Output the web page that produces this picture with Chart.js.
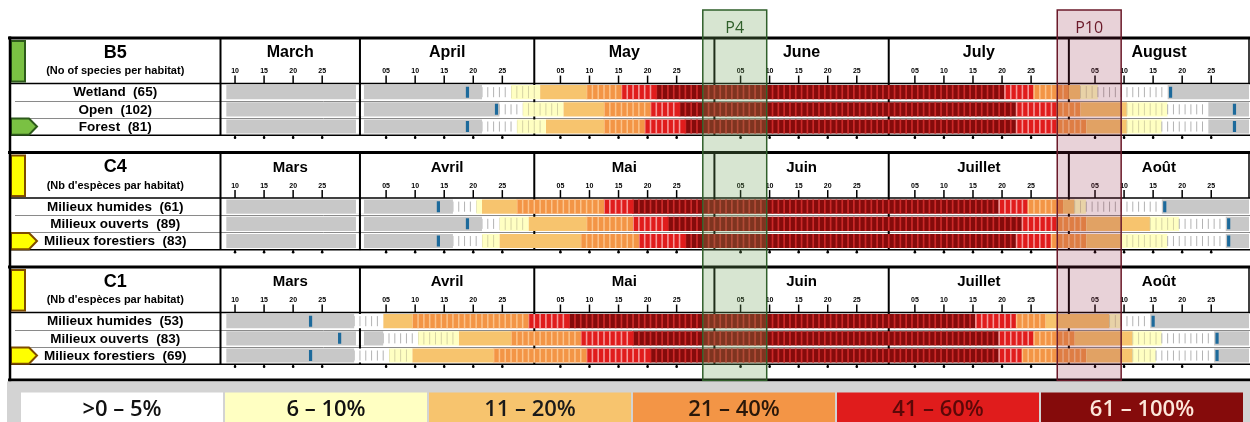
<!DOCTYPE html>
<html>
<head>
<meta charset="utf-8">
<title>Flight periods per habitat</title>
<script src="https://cdn.jsdelivr.net/npm/chart.js@4.4.1/dist/chart.umd.min.js"></script>
<style>
  html, body { margin: 0; padding: 0; background: #fff; overflow: hidden; }
  canvas { display: block; }
</style>
</head>
<body>
<canvas id="flight" width="1250" height="422"></canvas>
<script>
// ---- Calendar -------------------------------------------------------------
const monthsEn = ['March', 'April', 'May', 'June', 'July', 'August'];
const monthsFr = ['Mars', 'Avril', 'Mai', 'Juin', 'Juillet', 'Août'];
const monthNumbers = ['03', '04', '05', '06', '07', '08'];
const monthLengths = [31, 30, 31, 30, 31, 31];
const dayTicks = [5, 10, 15, 20, 25];
const firstShownDay = '03-08';
const lastShownDay = '08-31';

// ---- Abundance classes (share of species in flight) -----------------------
const classLabels = ['>0 – 5%', '6 – 10%', '11 – 20%', '21 – 40%', '41 – 60%', '61 – 100%'];

// ---- Panels ---------------------------------------------------------------
const panelCodes = ['B5', 'C4', 'C1'];
const panelSubtitles = ['(No of species per habitat)', "(Nb d'espèces par habitat)", "(Nb d'espèces par habitat)"];

const b5Habitats = ['Wetland', 'Open', 'Forest'];
const b5Species = [65, 102, 81];
const c4Habitats = ['Milieux humides', 'Milieux ouverts', 'Milieux forestiers'];
const c4Species = [61, 89, 83];
const c1Habitats = ['Milieux humides', 'Milieux ouverts', 'Milieux forestiers'];
const c1Species = [53, 83, 69];

// Each habitat row: [from, to (inclusive), class]; 'n' = no record
const b5Wetland = [
  ['03-09', '04-21', 'n'], ['04-22', '04-26', 0], ['04-27', '05-01', 1], ['05-02', '05-09', 2],
  ['05-10', '05-15', 3], ['05-16', '05-21', 4], ['05-22', '07-20', 5], ['07-21', '07-25', 4],
  ['07-26', '07-31', 3], ['08-01', '08-02', 2], ['08-03', '08-05', 1], ['08-06', '08-17', 0],
  ['08-18', '08-31', 'n']
];
const b5Open = [
  ['03-09', '04-24', 'n'], ['04-25', '04-28', 0], ['04-29', '05-05', 1], ['05-06', '05-12', 2],
  ['05-13', '05-20', 3], ['05-21', '05-25', 4], ['05-26', '07-22', 5], ['07-23', '07-29', 4],
  ['07-30', '08-02', 3], ['08-03', '08-10', 2], ['08-11', '08-17', 1], ['08-18', '08-24', 0],
  ['08-25', '08-31', 'n']
];
const b5Forest = [
  ['03-09', '04-21', 'n'], ['04-22', '04-27', 0], ['04-28', '05-02', 1], ['05-03', '05-12', 2],
  ['05-13', '05-19', 3], ['05-20', '05-26', 4], ['05-27', '07-22', 5], ['07-23', '07-29', 4],
  ['07-30', '08-03', 3], ['08-04', '08-10', 2], ['08-11', '08-16', 1], ['08-17', '08-24', 0],
  ['08-25', '08-31', 'n']
];
const c4Humides = [
  ['03-09', '04-16', 'n'], ['04-17', '04-20', 0], ['04-21', '04-21', 1], ['04-22', '04-27', 2],
  ['04-28', '05-12', 3], ['05-13', '05-17', 4], ['05-18', '07-19', 5], ['07-20', '07-24', 4],
  ['07-25', '07-30', 3], ['07-31', '08-01', 2], ['08-02', '08-03', 1], ['08-04', '08-16', 0],
  ['08-17', '08-31', 'n']
];
const c4Ouverts = [
  ['03-09', '04-21', 'n'], ['04-22', '04-24', 0], ['04-25', '04-29', 1], ['04-30', '05-09', 2],
  ['05-10', '05-17', 3], ['05-18', '05-23', 4], ['05-24', '07-23', 5], ['07-24', '07-29', 4],
  ['07-30', '08-03', 3], ['08-04', '08-14', 2], ['08-15', '08-19', 1], ['08-20', '08-27', 0],
  ['08-28', '08-31', 'n']
];
const c4Forestiers = [
  ['03-09', '04-16', 'n'], ['04-17', '04-21', 0], ['04-22', '04-24', 1], ['04-25', '05-08', 2],
  ['05-09', '05-18', 3], ['05-19', '05-26', 4], ['05-27', '07-22', 5], ['07-23', '07-28', 4],
  ['07-29', '08-03', 3], ['08-04', '08-09', 2], ['08-10', '08-17', 1], ['08-18', '08-27', 0],
  ['08-28', '08-31', 'n']
];
const c1Humides = [
  ['03-09', '03-30', 'n'], ['03-31', '04-04', 0], ['04-05', '04-09', 2], ['04-10', '04-29', 3],
  ['04-30', '05-06', 4], ['05-07', '07-15', 5], ['07-16', '07-22', 4], ['07-23', '07-27', 3],
  ['07-28', '08-07', 2], ['08-08', '08-09', 1], ['08-10', '08-14', 0], ['08-15', '08-31', 'n']
];
const c1Ouverts = [
  ['03-09', '04-04', 'n'], ['04-05', '04-10', 0], ['04-11', '04-17', 1], ['04-18', '04-26', 2],
  ['04-27', '05-08', 3], ['05-09', '05-17', 4], ['05-18', '07-19', 5], ['07-20', '07-25', 4],
  ['07-26', '08-01', 3], ['08-02', '08-11', 2], ['08-12', '08-16', 1], ['08-17', '08-25', 0],
  ['08-26', '08-31', 'n']
];
const c1Forestiers = [
  ['03-09', '03-30', 'n'], ['03-31', '04-05', 0], ['04-06', '04-09', 1], ['04-10', '04-23', 2],
  ['04-24', '05-09', 3], ['05-10', '05-20', 4], ['05-21', '07-19', 5], ['07-20', '07-23', 4],
  ['07-24', '08-03', 3], ['08-04', '08-11', 2], ['08-12', '08-15', 1], ['08-16', '08-25', 0],
  ['08-26', '08-31', 'n']
];

// First and last record for each habitat row
const b5Markers = [['04-19', '08-18'], ['04-24', '08-29'], ['04-19', '08-29']];
const c4Markers = [['04-14', '08-17'], ['04-19', '08-28'], ['04-14', '08-28']];
const c1Markers = [['03-23', '08-15'], ['03-28', '08-26'], ['03-23', '08-26']];

// Highlighted sampling periods
const periodLabels = ['P4', 'P10'];
const periodStarts = ['05-30', '07-30'];
const periodEnds = ['06-09', '08-09'];

// ---- Styling ---------------------------------------------------------------
const TXT = '"Liberation Sans", Arial, Helvetica, sans-serif';
const LEG = '"Open Sans", "Liberation Sans", sans-serif';
const classKeys = ['n', 0, 1, 2, 3, 4, 5];
const classStyle = {
  n: { fill: '#c8c8c8' },
  0: { fill: '#ffffff', stripe: '#b3b3b3', width: 1, inset: 2 },
  1: { fill: '#ffffc2', stripe: '#d6d3a4', width: 1, inset: 1 },
  2: { fill: '#f7c46e' },
  3: { fill: '#f39546', stripe: '#fbc48c', width: 1.5, inset: 0 },
  4: { fill: '#e01c1c', stripe: '#f49a9a', width: 1.6, inset: 0 },
  5: { fill: '#850b0b', stripe: '#cc2a2a', width: 1.7, inset: 0 }
};
const legendText = ['#111', '#111', '#1a1a1a', '#2a180a', '#5c0808', '#fde6da'];
const periodStyle = [
  { fill: 'rgba(110,160,90,0.28)', edge: '#2f5f2a' },
  { fill: 'rgba(140,30,60,0.20)', edge: '#6b1a2a' }
];
const panelTab = [
  { fill: '#7ac143', edge: '#2d5a1b', months: monthsEn, monthSize: 16 },
  { fill: '#ffff00', edge: '#7f4c00', months: monthsFr, monthSize: 15 },
  { fill: '#ffff00', edge: '#7f4c00', months: monthsFr, monthSize: 15 }
];

// Vertical layout in row units
const PITCH = 6.66;   // one panel
const HEAD = 2.65;    // panel header
const rowValue = (p, r) => p * PITCH + HEAD + r + 0.5;

// ---- Helpers ---------------------------------------------------------------
const monthOffset = {};
monthNumbers.reduce((acc, m, i) => { monthOffset[m] = acc; return acc + monthLengths[i]; }, 0);
const dayIndex = s => monthOffset[s.slice(0, 2)] + Number(s.slice(3)) - 1;
const monthStarts = monthNumbers.map(m => monthOffset[m]);
const X_MIN = dayIndex(firstShownDay);
const X_MAX = dayIndex(lastShownDay) + 1;

const panels = [
  { habitats: b5Habitats, species: b5Species, rows: [b5Wetland, b5Open, b5Forest], markers: b5Markers },
  { habitats: c4Habitats, species: c4Species, rows: [c4Humides, c4Ouverts, c4Forestiers], markers: c4Markers },
  { habitats: c1Habitats, species: c1Species, rows: [c1Humides, c1Ouverts, c1Forestiers], markers: c1Markers }
];

function line(ctx, x0, y0, x1, y1) {
  ctx.beginPath(); ctx.moveTo(x0, y0); ctx.lineTo(x1, y1); ctx.stroke();
}

// ---- Datasets -------------------------------------------------------------
const classDatasets = classKeys.map(key => {
  const data = [];
  panels.forEach((pn, p) => pn.rows.forEach((segs, r) => segs.forEach(([a, b, c]) => {
    if (c === key) data.push({ x: [dayIndex(a), dayIndex(b) + 1], y: rowValue(p, r) });
  })));
  return {
    type: 'bar', indexAxis: 'y', grouped: false, label: String(key), data,
    classKey: key,
    backgroundColor: classStyle[key].fill, borderWidth: 0,
    barPercentage: 0.82, categoryPercentage: 1
  };
});

const markerData = [];
panels.forEach((pn, p) => pn.markers.forEach((pair, r) => pair.forEach(d => {
  markerData.push({ x: dayIndex(d) + 0.5, y: rowValue(p, r) });
})));
const markerDataset = {
  type: 'scatter', label: 'records', data: markerData, order: -1,
  pointStyle: 'line', rotation: 90, radius: 5.5, borderWidth: 3.2,
  borderColor: '#1d6a9b', backgroundColor: '#1d6a9b'
};

// ---- Plugins --------------------------------------------------------------
const framePlugin = {
  id: 'panelFrame',
  beforeDatasetsDraw(chart) {
    const { ctx, chartArea: ca, scales: { x: xs, y: ys } } = chart;
    const R = chart.width;
    const L = 10;
    ctx.save();
    panels.forEach((pn, p) => {
      const top = ys.getPixelForValue(p * PITCH);
      const hb = ys.getPixelForValue(p * PITCH + HEAD);
      const db = ys.getPixelForValue(p * PITCH + HEAD + 3);
      const st = panelTab[p];

      // row separators
      ctx.strokeStyle = '#8a8a8a'; ctx.lineWidth = 1;
      for (let r = 1; r < 3; r++) {
        const yy = Math.round(ys.getPixelForValue(p * PITCH + HEAD + r)) + 0.5;
        line(ctx, 15, yy, R, yy);
      }
      // month separators
      ctx.strokeStyle = '#000'; ctx.lineWidth = 2;
      monthStarts.forEach(ms => {
        if (ms > X_MIN) { const px = xs.getPixelForValue(ms); line(ctx, px, top, px, db); }
      });
      line(ctx, ca.left, top, ca.left, db);
      ctx.lineWidth = 1.5;
      line(ctx, R - 1, top, R - 1, hb);
      // header bottom and data bottom
      line(ctx, L, hb, R, hb);
      line(ctx, L, db, R, db);
      // panel top rule
      ctx.lineWidth = 3;
      line(ctx, 8, top, R, top);

      // colour tab and arrow
      ctx.fillStyle = st.fill; ctx.strokeStyle = st.edge; ctx.lineWidth = 2;
      ctx.fillRect(11, top + 3, 14, hb - top - 5);
      ctx.strokeRect(11, top + 3, 14, hb - top - 5);
      const r3 = ys.getPixelForValue(p * PITCH + HEAD + 2);
      ctx.beginPath();
      ctx.moveTo(11, r3 + 0.5); ctx.lineTo(29, r3 + 0.5); ctx.lineTo(37, (r3 + db) / 2);
      ctx.lineTo(29, db - 0.5); ctx.lineTo(11, db - 0.5); ctx.closePath();
      ctx.fill(); ctx.stroke();

      // titles
      const cx = (L + ca.left) / 2;
      ctx.fillStyle = '#000'; ctx.textAlign = 'center'; ctx.textBaseline = 'middle';
      ctx.font = `bold 18px ${TXT}`;
      ctx.fillText(panelCodes[p], cx, top + 15);
      ctx.font = `bold 11px ${TXT}`;
      ctx.fillText(panelSubtitles[p], cx, top + 33);
      ctx.font = `bold 13.5px ${TXT}`;
      pn.habitats.forEach((h, r) => {
        ctx.fillText(`${h}  (${pn.species[r]})`, cx, ys.getPixelForValue(rowValue(p, r)) + 0.5);
      });

      // months and day ticks
      monthStarts.forEach((ms, i) => {
        const a = xs.getPixelForValue(Math.max(ms, X_MIN));
        const b = xs.getPixelForValue(ms + monthLengths[i]);
        ctx.fillStyle = '#000';
        ctx.font = `bold ${st.monthSize}px ${TXT}`;
        ctx.fillText(st.months[i], (a + b) / 2, top + 15);
        dayTicks.forEach(d => {
          const v = ms + d - 0.5;
          if (v <= X_MIN) return;
          const px = xs.getPixelForValue(v);
          ctx.font = `bold 7px ${TXT}`;
          ctx.fillText(String(d).padStart(2, '0'), px, hb - 12);
          ctx.strokeStyle = '#000'; ctx.lineWidth = 1.5;
          line(ctx, px, hb - 8, px, hb);
          line(ctx, px, db, px, db + 3);
          ctx.beginPath(); ctx.arc(px, db + 2.5, 1.3, 0, Math.PI * 2); ctx.fill();
        });
      });
    });
    // outer frame
    const bottom = ys.getPixelForValue(3 * PITCH);
    ctx.strokeStyle = '#000';
    ctx.lineWidth = 3;
    line(ctx, 8, bottom - 1.5, R, bottom - 1.5);
    ctx.lineWidth = 2.5;
    line(ctx, 10, ys.getPixelForValue(0) - 1.5, 10, bottom);
    ctx.restore();
  }
};

const stripePlugin = {
  id: 'cellStripes',
  afterDatasetDraw(chart, args) {
    const ds = chart.data.datasets[args.index];
    if (ds.classKey === undefined) return;
    const st = classStyle[ds.classKey];
    const { ctx, scales: { x: xs } } = chart;
    ctx.save();
    args.meta.data.forEach((bar, i) => {
      const { y, height } = bar.getProps(['y', 'height'], true);
      const [a, b] = ds.data[i].x;
      const y0 = y - height / 2, y1 = y + height / 2;
      if (st.stripe) {
        ctx.strokeStyle = st.stripe; ctx.lineWidth = st.width;
        for (let d = a; d < b; d++) {
          const px = xs.getPixelForValue(d);
          line(ctx, px, y0 + st.inset, px, y1 - st.inset);
        }
      } else if (ds.classKey === 'n') {
        // month boundary crossing an empty stretch
        monthStarts.forEach(ms => {
          if (ms > a && ms < b) {
            const px = xs.getPixelForValue(ms);
            ctx.fillStyle = '#fff';
            ctx.fillRect(px - 4, y0, 8, height);
            ctx.strokeStyle = '#000'; ctx.lineWidth = 2;
            line(ctx, px, y0 - 2, px, y1 + 2);
          }
        });
      }
    });
    ctx.restore();
  }
};

const overlayPlugin = {
  id: 'overlays',
  afterDraw(chart) {
    const { ctx, scales: { x: xs, y: ys } } = chart;
    const bottom = ys.getPixelForValue(3 * PITCH);
    ctx.save();
    // sampling periods
    periodLabels.forEach((lab, i) => {
      const x0 = xs.getPixelForValue(dayIndex(periodStarts[i]));
      const x1 = xs.getPixelForValue(dayIndex(periodEnds[i]) + 1);
      const y0 = 10, y1 = bottom - 1;
      ctx.fillStyle = periodStyle[i].fill;
      ctx.fillRect(x0, y0, x1 - x0, y1 - y0);
      ctx.strokeStyle = periodStyle[i].edge; ctx.lineWidth = 1.5;
      ctx.strokeRect(x0, y0, x1 - x0, y1 - y0);
      ctx.fillStyle = periodStyle[i].edge;
      ctx.font = `16px ${LEG}`;
      ctx.textAlign = 'center'; ctx.textBaseline = 'middle';
      ctx.fillText(lab, (x0 + x1) / 2, 28);
    });
    // colour key
    ctx.fillStyle = '#d3d3d3';
    ctx.fillRect(7, bottom, chart.width - 7, chart.height - bottom);
    const boxW = 204, boxX = 20, boxY = bottom + 11;
    classLabels.forEach((lab, i) => {
      const x = boxX + i * boxW;
      ctx.fillStyle = classStyle[i].fill;
      ctx.fillRect(x + 1, boxY, boxW - 2, chart.height - boxY + 5);
      ctx.fillStyle = legendText[i];
      ctx.font = `600 22px ${LEG}`;
      ctx.textAlign = 'center'; ctx.textBaseline = 'middle';
      ctx.fillText(lab, x + boxW / 2, boxY + 17);
    });
    ctx.restore();
  }
};

// ---- Chart ----------------------------------------------------------------
new Chart(document.getElementById('flight'), {
  type: 'bar',
  data: { datasets: [markerDataset, ...classDatasets] },
  options: {
    responsive: false,
    animation: false,
    events: [],
    devicePixelRatio: 1,
    layout: { autoPadding: false, padding: { left: 220.5, right: 1, top: 38, bottom: 40.5 } },
    scales: {
      x: { type: 'linear', min: X_MIN, max: X_MAX, offset: false, grace: 0, display: false },
      y: { type: 'linear', min: 0, max: 3 * PITCH, reverse: true, offset: false, grace: 0, display: false }
    },
    plugins: { legend: { display: false }, tooltip: { enabled: false } }
  },
  plugins: [framePlugin, stripePlugin, overlayPlugin]
});
</script>
</body>
</html>
